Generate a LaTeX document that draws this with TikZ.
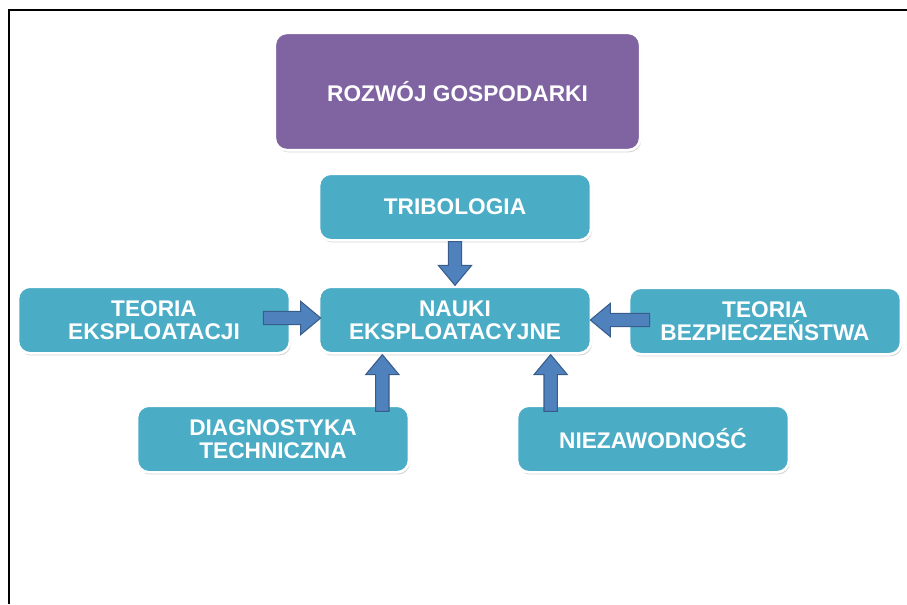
\documentclass[tikz,border=0pt]{standalone}
\usepackage{fontspec}
\setmainfont{Liberation Sans}
\usetikzlibrary{calc,shadows}

\definecolor{kafelteal}{HTML}{4BACC6}
\definecolor{kafelfiolet}{HTML}{8064A2}
\definecolor{strzalkafill}{HTML}{4F81BD}
\definecolor{strzalkaline}{HTML}{385D8A}

\tikzset{
  kafel/.style={fill=kafelteal, draw=white, line width=2pt, rounded corners=9pt,
    text=white, align=center, minimum width=204pt, minimum height=50pt,
    drop shadow={shadow xshift=0.8pt, shadow yshift=-1.6pt, opacity=0.35}},
  strzalka/.style={fill=strzalkafill, draw=strzalkaline, line width=0.8pt,
    to path={
      ($(\tikztostart)!5pt!90:(\tikztotarget)$)
      -- ($(\tikztotarget)!15pt!(\tikztostart)!5pt!-90:(\tikztostart)$)
      -- ($(\tikztotarget)!15pt!(\tikztostart)!12.5pt!-90:(\tikztostart)$)
      -- (\tikztotarget)
      -- ($(\tikztotarget)!15pt!(\tikztostart)!12.5pt!90:(\tikztostart)$)
      -- ($(\tikztotarget)!15pt!(\tikztostart)!5pt!90:(\tikztostart)$)
      -- ($(\tikztostart)!5pt!-90:(\tikztotarget)$)
      -- cycle}}
}

\begin{document}
\begin{tikzpicture}[x=0.75pt, y=-0.75pt, font=\bfseries\fontsize{17}{17.5}\selectfont]
	\useasboundingbox (0,0) rectangle (907,604);
	\draw[line width=2.2pt] (9,604) -- (9,10) -- (907,10);
	% kafle
	\node[kafel, fill=kafelfiolet, minimum width=274pt, minimum height=88pt] (G) at (457.5,91.5) {ROZWÓJ GOSPODARKI};
	\node[kafel] (T) at (455,207) {TRIBOLOGIA};
	\node[kafel] (N) at (455,320) {NAUKI\\EKSPLOATACYJNE};
	\node[kafel] (E) at (154,320) {TEORIA\\EKSPLOATACJI};
	\node[kafel] (B) at (765,321) {TEORIA\\BEZPIECZEŃSTWA};
	\node[kafel] (D) at (273,439) {DIAGNOSTYKA\\TECHNICZNA};
	\node[kafel] (Z) at (653,439) {NIEZAWODNOŚĆ};
	% strzalki
	\coordinate (e1) at ($(E.east)+(-28,-2)$);
	\coordinate (e2) at ($(N.west)+(3,-2)$);
	\coordinate (b1) at ($(B.west)+(22,-1)$);
	\coordinate (b2) at ($(N.east)+(-2,0)$);
	\coordinate (d1) at ($(D.north east)+(-28,7)$);
	\coordinate (d2) at (d1 |- N.south);
	\coordinate (z1) at ($(Z.north west)+(35,7)$);
	\coordinate (z2) at (z1 |- N.south);
	\draw[strzalka] (T.south) to (N.north);
	\draw[strzalka] (e1) to (e2);
	\draw[strzalka] (b1) to (b2);
	\draw[strzalka] (d1) to (d2);
	\draw[strzalka] (z1) to (z2);
\end{tikzpicture}
\end{document}
